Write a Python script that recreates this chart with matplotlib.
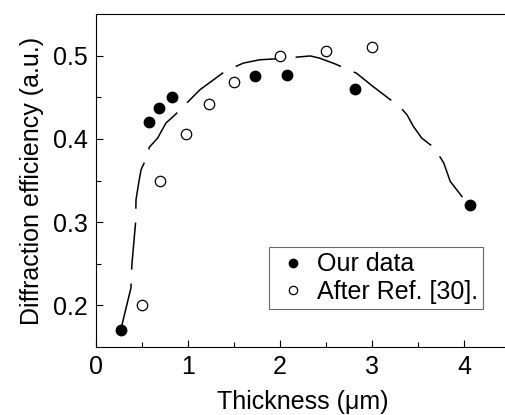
import matplotlib
matplotlib.use("Agg")
import matplotlib.pyplot as plt

plt.rcParams['font.family'] = ['Liberation Sans', 'DejaVu Sans']
plt.rcParams['lines.scale_dashes'] = False

# Our data (filled circles)
our_x = [0.27, 0.58, 0.68, 0.83, 1.73, 2.08, 2.82, 4.07]
our_y = [0.170, 0.420, 0.437, 0.450, 0.476, 0.477, 0.460, 0.320]

# After Ref. [30] (open circles)
ref_x = [0.50, 0.70, 0.98, 1.23, 1.50, 2.00, 2.50, 3.00]
ref_y = [0.200, 0.350, 0.406, 0.442, 0.468, 0.500, 0.505, 0.510]

# dashed guide curve
fit_x = [0.27, 0.38, 0.39, 0.43, 0.435, 0.47, 0.49, 0.54, 0.58, 0.67, 0.76, 0.86,
         0.95, 1.13, 1.29, 1.40, 1.60, 1.78, 1.93, 2.16, 2.33, 2.43, 2.60, 2.74,
         2.83, 3.01, 3.20, 3.30, 3.38, 3.45, 3.54, 3.68, 3.78, 3.85, 3.99, 4.05]
fit_y = [0.171, 0.221, 0.249, 0.299, 0.327, 0.351, 0.363, 0.375, 0.390, 0.401, 0.419, 0.429,
         0.439, 0.459, 0.472, 0.481, 0.491, 0.495, 0.496, 0.498, 0.4996, 0.497, 0.490, 0.483,
         0.479, 0.463, 0.447, 0.439, 0.429, 0.415, 0.401, 0.389, 0.371, 0.349, 0.329, 0.323]

xticks = [0, 1, 2, 3, 4]
yticks = [0.2, 0.3, 0.4, 0.5]

fig = plt.figure(figsize=(5.06, 4.15), dpi=100)
W, H = 506, 415
left, right, top, bottom = 96, 510, 14, 347
ax = fig.add_axes([left / W, 1 - bottom / H, (right - left) / W, (bottom - top) / H])

ax.plot(fit_x, fit_y, color='black', lw=1.1, dashes=(34, 10), zorder=2)
ax.plot(our_x, our_y, 'o', color='black', ms=7.5, zorder=3, label='Our data')
ax.plot(ref_x, ref_y, 'o', mfc='white', mec='black', mew=0.9, ms=7.5, zorder=3,
        label='After Ref. [30].')

ax.set_xlim(0, 4.5)
ax.set_ylim(0.15, 0.55)
ax.set_xticks(xticks)
ax.set_xticklabels([str(v) for v in xticks])
ax.set_yticks(yticks)
ax.set_yticklabels([f"{v:.1f}" for v in yticks])
ax.set_xticks([0.5, 1.5, 2.5, 3.5], minor=True)
ax.set_yticks([0.25, 0.35, 0.45], minor=True)
ax.tick_params(which='both', direction='in', labelsize=18, width=0.8, pad=6)
ax.tick_params(which='major', length=5)
ax.tick_params(which='minor', length=3.5)
ax.tick_params(top=False, right=False)
for s in ax.spines.values():
    s.set_linewidth(0.8)
ax.spines['right'].set_visible(False)

ax.set_xlabel('Thickness (\u03bcm)', fontsize=18, labelpad=8)
ax.set_ylabel('Diffraction efficiency (a.u.)', fontsize=18, labelpad=6)

leg = ax.legend(loc='lower left', bbox_to_anchor=(0.418, 0.114), borderaxespad=0,
                fontsize=18, frameon=True, fancybox=False, edgecolor='#444444',
                handlelength=1.5, handletextpad=0.2, borderpad=0.2,
                labelspacing=0.15, markerscale=0.8)
leg.get_frame().set_linewidth(0.8)

fig.savefig('out.png', dpi=100)
